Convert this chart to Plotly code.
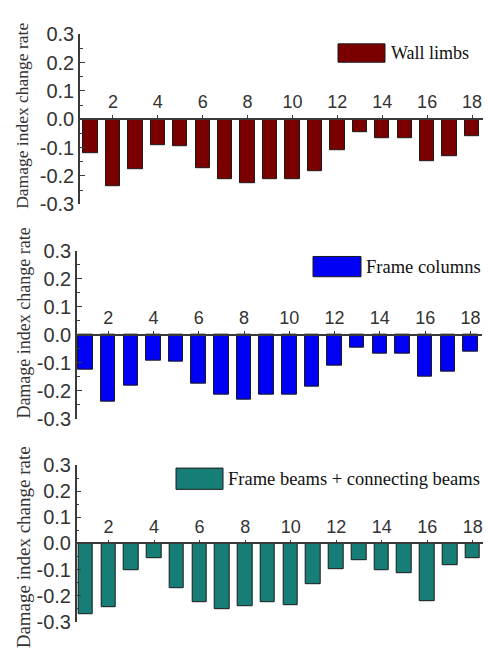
import plotly.graph_objects as go

W, H = 488, 654

categories = list(range(1, 19))
wall_limbs = [-0.120, -0.237, -0.176, -0.090, -0.095, -0.172, -0.211, -0.227, -0.211,
              -0.211, -0.182, -0.110, -0.045, -0.066, -0.066, -0.147, -0.131, -0.060]
frame_columns = [-0.123, -0.240, -0.180, -0.093, -0.097, -0.175, -0.214, -0.230, -0.214,
                 -0.214, -0.184, -0.112, -0.047, -0.068, -0.068, -0.150, -0.133, -0.061]
frame_beams = [-0.272, -0.245, -0.104, -0.058, -0.170, -0.226, -0.251, -0.240, -0.226,
               -0.236, -0.155, -0.098, -0.063, -0.103, -0.114, -0.221, -0.084, -0.058]

series_names = ["Wall limbs", "Frame columns", "Frame beams + connecting beams"]
series_values = [wall_limbs, frame_columns, frame_beams]
colors = ["#7a0000", "#0000f5", "#167d77"]

x_tickvals = [2, 4, 6, 8, 10, 12, 14, 16, 18]
x_ticktext = ["2", "4", "6", "8", "10", "12", "14", "16", "18"]
y_tickvals = [0.3, 0.2, 0.1, 0.0, -0.1, -0.2, -0.3]
y_ticktext = ["0.3", "0.2", "0.1", "0.0", "-0.1", "-0.2", "-0.3"]
y_title = "Damage index change rate"

# layout per panel (pixel geometry)
panels = [
    dict(ytop=24, ybot=200, xl=80, xr=483, xrange=[0.53, 18.49],
         leg=(338, 34, 385, 53), legtext_x=389, legfont=18, titlex=22, titley=108.5, titlefont=17.5),
    dict(ytop=248, ybot=422, xl=77, xr=482, xrange=[0.625, 18.51],
         leg=(313, 254, 361, 275), legtext_x=364, legfont=18.5, titlex=24, titley=323.5, titlefont=18),
    dict(ytop=470, ybot=632, xl=76.7, xr=483, xrange=[0.60, 18.45],
         leg=(176, 473, 223, 495), legtext_x=226, legfont=18.5, titlex=23, titley=555, titlefont=19),
]

fig = go.Figure()
shapes = []
annotations = []
axis_color = "#3a3a3a"
sans = "Liberation Sans, Arial, sans-serif"
serif = "Liberation Serif, Times New Roman, serif"

for i, (p, name, vals, col) in enumerate(zip(panels, series_names, series_values, colors)):
    n = "" if i == 0 else str(i + 1)
    xa, ya = "x" + n, "y" + n
    fig.add_trace(go.Bar(x=categories, y=vals, name=name, width=0.64,
                         marker=dict(color=col, line=dict(color="#1a1a1a", width=1)),
                         xaxis=xa, yaxis=ya, showlegend=False))
    ydom = [1 - p["ybot"] / H, 1 - p["ytop"] / H]
    xdom = [p["xl"] / W, p["xr"] / W]
    ymid = (ydom[0] + ydom[1]) / 2
    fig.update_layout(**{
        "xaxis" + n: dict(domain=xdom, range=p["xrange"], anchor="free", position=ymid,
                          side="top", showline=True, linecolor=axis_color, linewidth=1.5,
                          tickvals=x_tickvals, ticktext=x_ticktext, ticks="outside",
                          ticklen=3, tickcolor=axis_color, showgrid=False, zeroline=False,
                          tickfont=dict(family=sans, size=18, color="#333333")),
        "yaxis" + n: dict(domain=ydom, range=[-0.3, 0.3], anchor=xa, showline=True,
                          linecolor=axis_color, linewidth=1.5, tickvals=y_tickvals,
                          ticktext=y_ticktext, ticks="inside", ticklen=5, tickcolor=axis_color,
                          minor=dict(ticks="inside", dtick=0.05, ticklen=3, tickcolor=axis_color),
                          showgrid=False, zeroline=False,
                          tickfont=dict(family=sans, size=20, color="#333333")),
    })
    x0, y0, x1, y1 = p["leg"]
    shapes.append(dict(type="rect", xref="paper", yref="paper",
                       x0=x0 / W, x1=x1 / W, y0=1 - y1 / H, y1=1 - y0 / H,
                       fillcolor=col, line=dict(color="#1a1a1a", width=1)))
    annotations.append(dict(text=name, xref="paper", yref="paper", x=p["legtext_x"] / W,
                            y=1 - ((y0 + y1) / 2) / H, xanchor="left", yanchor="middle",
                            showarrow=False,
                            font=dict(family=serif, size=p["legfont"], color="#111111")))
    annotations.append(dict(text=y_title, xref="paper", yref="paper", x=p["titlex"] / W,
                            y=1 - p["titley"] / H, textangle=-90,
                            xanchor="center", yanchor="middle", showarrow=False,
                            font=dict(family=serif, size=p["titlefont"], color="#333333")))

fig.update_layout(width=W, height=H, margin=dict(l=0, r=0, t=0, b=0),
                  paper_bgcolor="white", plot_bgcolor="white",
                  shapes=shapes, annotations=annotations, bargap=0)
fig.write_html("out.html")
